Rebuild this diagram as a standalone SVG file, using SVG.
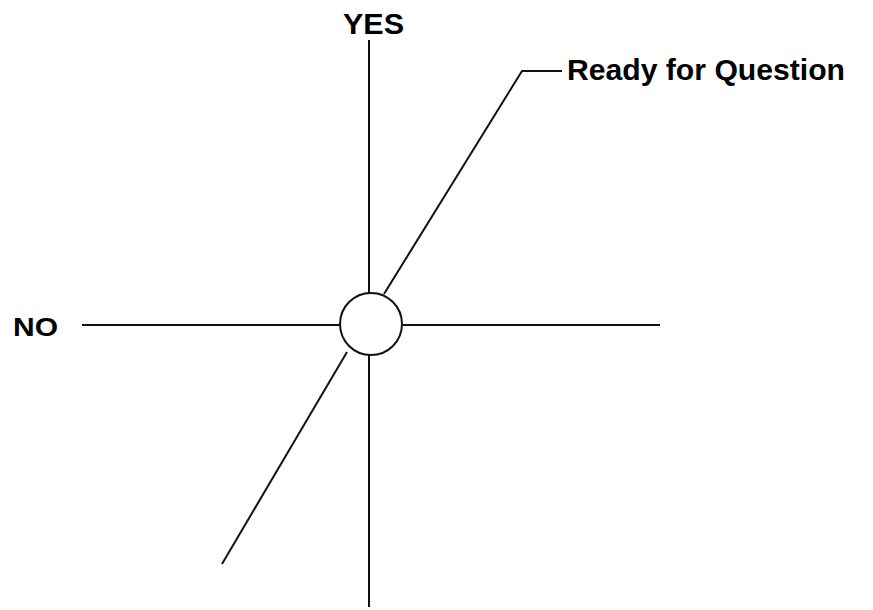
<svg xmlns="http://www.w3.org/2000/svg" width="873" height="610" viewBox="0 0 873 610">
<style>
.ln{stroke:#111;stroke-width:2;fill:none}
.lbl{font-family:"Liberation Sans",Arial,sans-serif;font-weight:bold;fill:#000}
</style>
<rect width="873" height="610" fill="#fff"/>
<g id="connectors">
<line class="ln" x1="369" y1="40" x2="369" y2="294"/>
<line class="ln" x1="369" y1="355" x2="369" y2="607"/>
<line class="ln" x1="82" y1="325" x2="340" y2="325"/>
<line class="ln" x1="403" y1="325" x2="660" y2="325"/>
<polyline class="ln" points="384,294 522,71 562,71"/>
<line class="ln" x1="347" y1="352" x2="222" y2="564"/>
</g>
<g id="node-center">
<circle cx="371" cy="324" r="31" fill="#fff" stroke="#111" stroke-width="2"/>
</g>
<g id="label-yes"><text class="lbl" x="343" y="34" font-size="30" textLength="61" lengthAdjust="spacingAndGlyphs">YES</text></g>
<g id="label-no"><text class="lbl" x="13" y="336" font-size="26" textLength="45" lengthAdjust="spacingAndGlyphs">NO</text></g>
<g id="label-ready"><text class="lbl" x="567" y="80" font-size="29" textLength="278" lengthAdjust="spacingAndGlyphs">Ready for Question</text></g>
</svg>
